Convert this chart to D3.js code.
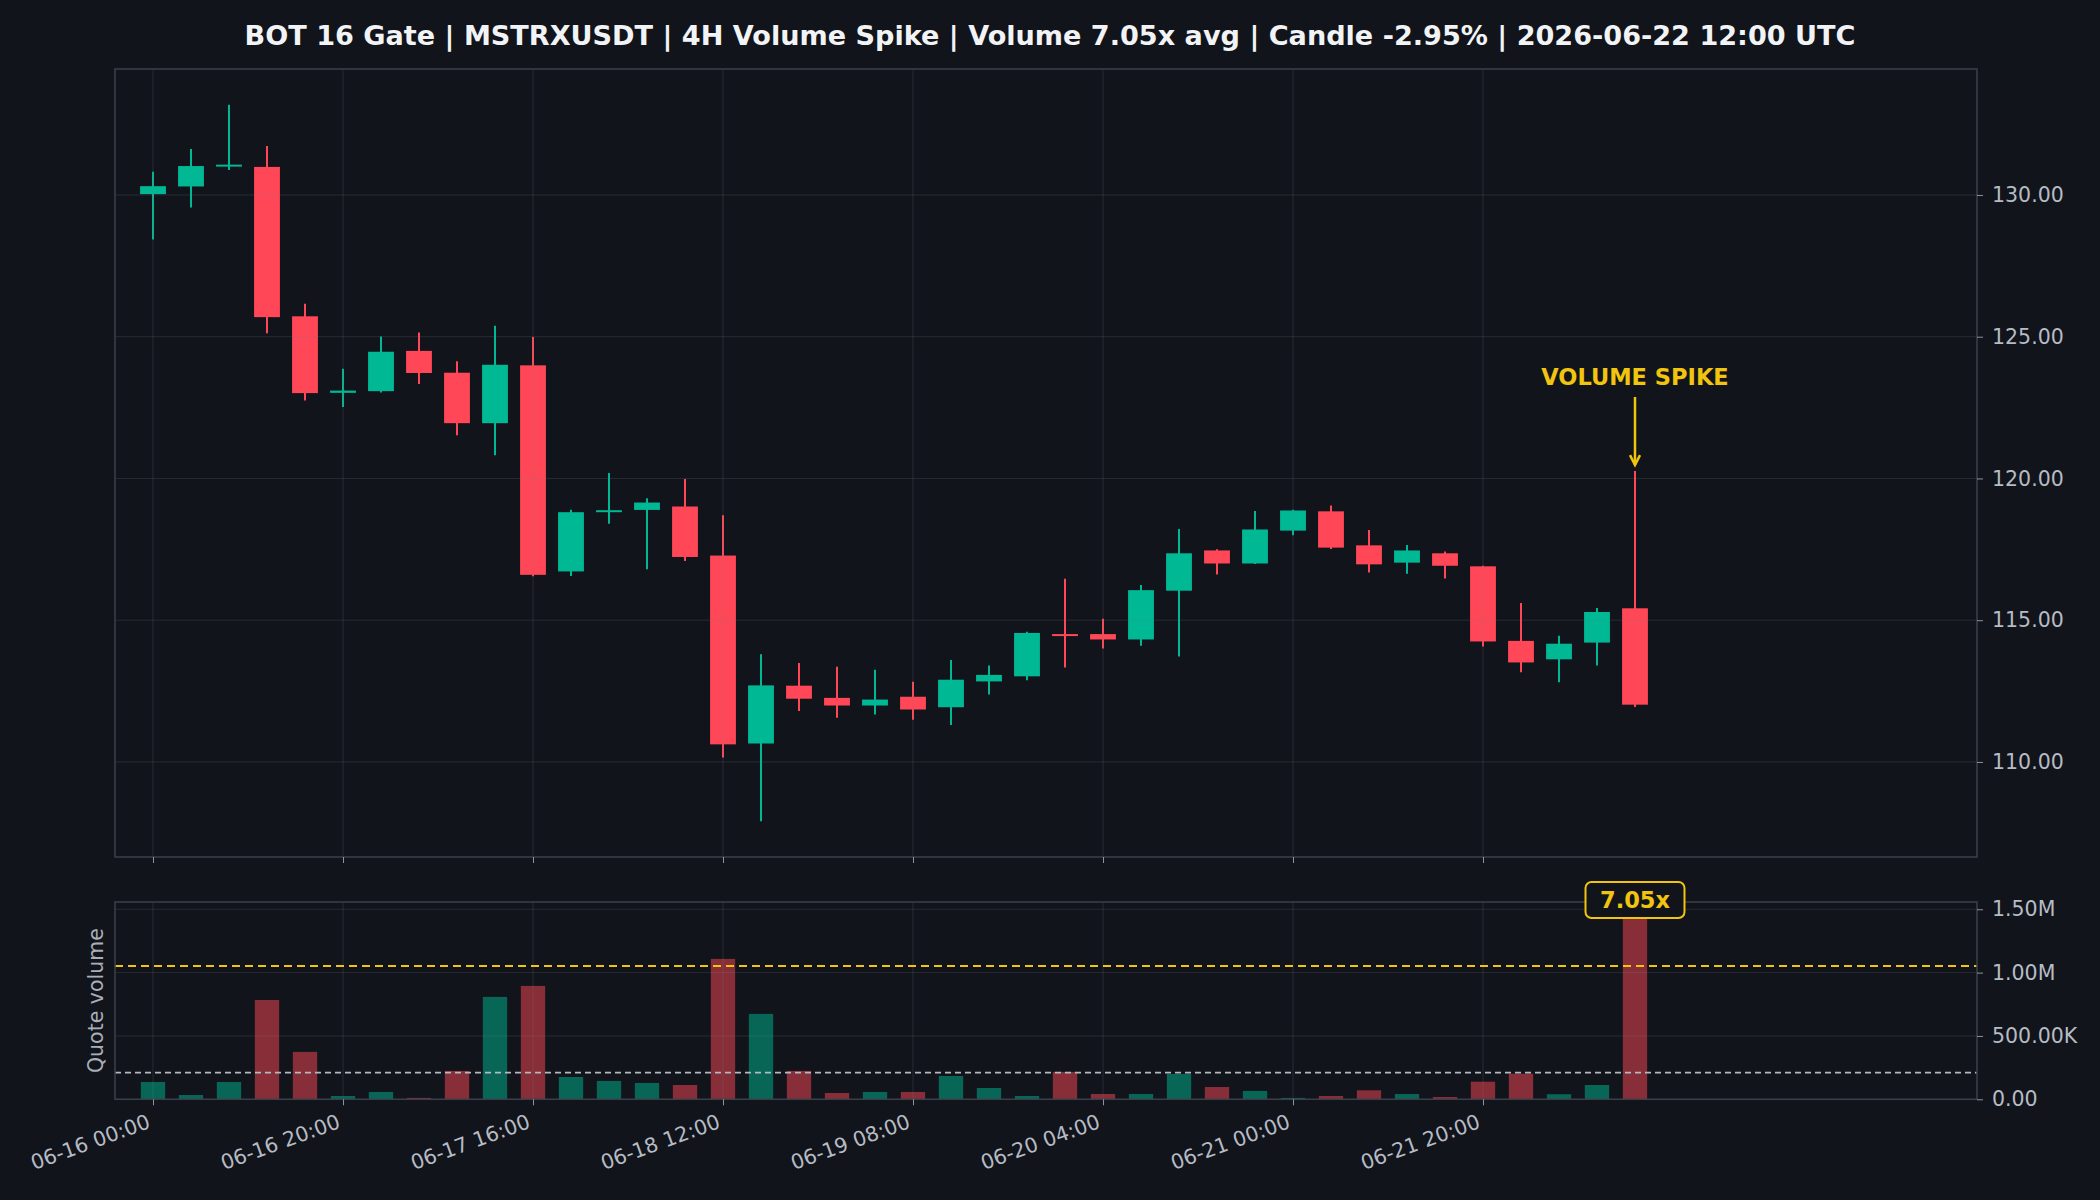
<!DOCTYPE html>
<html>
<head>
<meta charset="utf-8">
<script src="https://cdn.jsdelivr.net/npm/d3@7"></script>
<style>
  html, body { margin: 0; padding: 0; background: #11141b; }
  svg { display: block; }
  text { font-family: "DejaVu Sans", sans-serif; }
</style>
</head>
<body>
<svg id="chart" width="2100" height="1200"></svg>
<script>
// ---- DATA ----
const times = [
  "06-16 00:00","06-16 04:00","06-16 08:00","06-16 12:00","06-16 16:00",
  "06-16 20:00","06-17 00:00","06-17 04:00","06-17 08:00","06-17 12:00",
  "06-17 16:00","06-17 20:00","06-18 00:00","06-18 04:00","06-18 08:00",
  "06-18 12:00","06-18 16:00","06-18 20:00","06-19 00:00","06-19 04:00",
  "06-19 08:00","06-19 12:00","06-19 16:00","06-19 20:00","06-20 00:00",
  "06-20 04:00","06-20 08:00","06-20 12:00","06-20 16:00","06-20 20:00",
  "06-21 00:00","06-21 04:00","06-21 08:00","06-21 12:00","06-21 16:00",
  "06-21 20:00","06-22 00:00","06-22 04:00","06-22 08:00","06-22 12:00"
];
const open  = [130.03,130.30,131.03,130.99,125.72,123.02,123.08,124.50,123.73,121.95,
               123.99,116.72,118.82,118.89,119.01,117.28,110.65,112.69,112.26,111.99,
               112.30,111.93,112.84,113.02,114.51,114.51,114.32,116.04,117.46,117.00,
               118.16,118.84,117.64,117.03,117.36,116.90,114.27,113.62,114.21,115.42];
const high  = [130.82,131.62,133.18,131.73,126.16,123.87,125.01,125.15,124.13,125.39,
               124.99,118.90,120.19,119.30,119.98,118.70,113.80,113.49,113.36,113.25,
               112.83,113.60,113.40,114.59,116.46,115.05,116.24,118.22,117.50,118.85,
               118.90,119.05,118.18,117.65,117.42,116.92,115.61,114.45,115.43,120.26];
const low   = [128.43,129.56,130.88,125.12,122.75,122.52,123.03,123.33,121.52,120.82,
               116.55,116.56,118.40,116.80,117.09,110.16,107.91,111.80,111.56,111.67,
               111.49,111.30,112.38,112.88,113.33,114.00,114.10,113.72,116.61,116.98,
               118.00,117.51,116.68,116.64,116.47,114.07,113.16,112.81,113.40,111.94];
const close = [130.31,131.02,131.07,125.69,123.01,123.10,124.47,123.72,121.95,124.01,
               116.60,118.81,118.88,119.15,117.23,110.62,112.70,112.23,111.99,112.20,
               111.85,112.90,113.07,114.55,114.44,114.32,116.06,117.36,117.00,118.20,
               118.87,117.56,116.97,117.46,116.92,114.25,113.51,114.17,115.29,112.02];
const quoteVolume = [137000,34000,137000,784000,374000,26000,58000,11000,224000,808000,
                     895000,176000,145000,129000,113000,1108000,674000,224000,50000,58000,
                     58000,184000,89000,26000,216000,42000,42000,200000,97000,66000,
                     11000,26000,71000,42000,18000,139000,202000,40000,113000,1483000];
const avgVolume = 210400;
const thresholdVolume = 1052000;
const spikeMultiple = "7.05x";
const priceTicks = [110, 115, 120, 125, 130];
const volumeTicks = [0, 500000, 1000000, 1500000];
const volumeTickLabels = ["0.00", "500.00K", "1.00M", "1.50M"];
const xTickIndex = [0, 5, 10, 15, 20, 25, 30, 35];
const xTickLabels = ["06-16 00:00","06-16 20:00","06-17 16:00","06-18 12:00",
                     "06-19 08:00","06-20 04:00","06-21 00:00","06-21 20:00"];
const titleText = "BOT 16 Gate | MSTRXUSDT | 4H Volume Spike | Volume 7.05x avg | Candle -2.95% | 2026-06-22 12:00 UTC";

// ---- STYLE ----
const BG = "#11141b";
const UP = "#00b894";
const DOWN = "#ff4757";
const YELLOW = "#f1c40f";
const GRID = "rgb(120,126,138)";
const BORDER = "#3a3f4b";
const TICKTXT = "#b6bbc4";

const L = 115, R = 1977;
const P_TOP = 69, P_BOT = 857;
const V_TOP = 902, V_BOT = 1099.3;

const svg = d3.select("#chart");
svg.append("rect").attr("width", 2100).attr("height", 1200).attr("fill", BG);

const n = times.length;
const x = d3.scaleLinear().domain([-1, n + 8]).range([L, R]);
const step = x(1) - x(0);

const pMin = d3.min(low), pMax = d3.max(high), pr = pMax - pMin;
const y = d3.scaleLinear().domain([pMin - 0.05 * pr, pMax + 0.05 * pr]).range([P_BOT, P_TOP]);
const vMax = d3.max(quoteVolume);
const yv = d3.scaleLinear().domain([0, vMax * 1.05]).range([V_BOT, V_TOP]);

const data = times.map((t, i) => ({i, t, o: open[i], h: high[i], l: low[i], c: close[i], v: quoteVolume[i]}));

// Title
svg.append("text").attr("x", 1050).attr("y", 35).attr("text-anchor", "middle")
  .attr("dominant-baseline", "central").attr("fill", "#f2f3f5")
  .attr("font-size", 27.1).attr("font-weight", "bold").text(titleText);

// ---- PRICE PANEL ----
const pg = svg.append("g");
const pClip = svg.append("clipPath").attr("id", "pclip");
pClip.append("rect").attr("x", L).attr("y", P_TOP).attr("width", R - L).attr("height", P_BOT - P_TOP);

const candles = pg.append("g").attr("clip-path", "url(#pclip)");
candles.selectAll("line.wick").data(data).join("line")
  .attr("x1", d => x(d.i)).attr("x2", d => x(d.i))
  .attr("y1", d => y(d.h)).attr("y2", d => y(d.l))
  .attr("stroke", d => d.c >= d.o ? UP : DOWN).attr("stroke-width", 2);
candles.selectAll("rect.body").data(data).join("rect")
  .attr("x", d => x(d.i) - step * 0.34).attr("width", step * 0.68)
  .attr("y", d => y(Math.max(d.o, d.c)))
  .attr("height", d => Math.max(2, Math.abs(y(d.o) - y(d.c))))
  .attr("fill", d => d.c >= d.o ? UP : DOWN);

// grid (over marks, translucent)
const pgrid = pg.append("g").attr("stroke", GRID).attr("stroke-opacity", 0.22).attr("stroke-width", 1);
priceTicks.forEach(t => pgrid.append("line").attr("x1", L).attr("x2", R).attr("y1", y(t)).attr("y2", y(t)));
xTickIndex.forEach(i => pgrid.append("line").attr("x1", x(i)).attr("x2", x(i)).attr("y1", P_TOP).attr("y2", P_BOT));

pg.append("rect").attr("x", L).attr("y", P_TOP).attr("width", R - L).attr("height", P_BOT - P_TOP)
  .attr("fill", "none").attr("stroke", BORDER).attr("stroke-width", 1.5);

// right price axis
const yAxis = d3.axisRight(y).tickValues(priceTicks).tickFormat(d3.format(".2f")).tickSize(6).tickPadding(9);
const ya = pg.append("g").attr("transform", `translate(${R},0)`).call(yAxis);
ya.select(".domain").remove();
ya.selectAll("line").attr("stroke", "#8d929c");
ya.selectAll("text").attr("fill", TICKTXT).attr("font-size", 20.5).attr("font-family", "DejaVu Sans");

// bottom ticks of price panel (no labels)
const xAxisTop = d3.axisBottom(x).tickValues(xTickIndex).tickFormat("").tickSize(6);
const xa1 = pg.append("g").attr("transform", `translate(0,${P_BOT})`).call(xAxisTop);
xa1.select(".domain").remove();
xa1.selectAll("line").attr("stroke", "#8d929c");

// Volume spike annotation
const si = n - 1;
pg.append("text").attr("x", x(si)).attr("y", 385).attr("text-anchor", "middle")
  .attr("fill", YELLOW).attr("font-size", 22.5).attr("font-weight", "bold").text("VOLUME SPIKE");
const ax = x(si), ay0 = 397, ay1 = y(high[si]) - 6;
pg.append("line").attr("x1", ax).attr("x2", ax).attr("y1", ay0).attr("y2", ay1)
  .attr("stroke", YELLOW).attr("stroke-width", 2.5);
pg.append("path").attr("d", `M${ax - 5},${ay1 - 10} L${ax},${ay1} L${ax + 5},${ay1 - 10}`)
  .attr("fill", "none").attr("stroke", YELLOW).attr("stroke-width", 2.5).attr("stroke-linejoin", "miter");

// ---- VOLUME PANEL ----
const vg = svg.append("g");
const vClip = svg.append("clipPath").attr("id", "vclip");
vClip.append("rect").attr("x", L).attr("y", V_TOP).attr("width", R - L).attr("height", V_BOT - V_TOP);

const bars = vg.append("g").attr("clip-path", "url(#vclip)");
bars.selectAll("rect").data(data).join("rect")
  .attr("x", d => x(d.i) - step * 0.32).attr("width", step * 0.64)
  .attr("y", d => yv(d.v)).attr("height", d => V_BOT - yv(d.v))
  .attr("fill", d => d.c >= d.o ? UP : DOWN).attr("fill-opacity", 0.5);

const vgrid = vg.append("g").attr("stroke", GRID).attr("stroke-opacity", 0.22).attr("stroke-width", 1);
volumeTicks.forEach(t => vgrid.append("line").attr("x1", L).attr("x2", R).attr("y1", yv(t)).attr("y2", yv(t)));
xTickIndex.forEach(i => vgrid.append("line").attr("x1", x(i)).attr("x2", x(i)).attr("y1", V_TOP).attr("y2", V_BOT));

vg.append("line").attr("x1", L).attr("x2", R).attr("y1", yv(thresholdVolume)).attr("y2", yv(thresholdVolume))
  .attr("stroke", YELLOW).attr("stroke-width", 2.2).attr("stroke-dasharray", "8,5");
vg.append("line").attr("x1", L).attr("x2", R).attr("y1", yv(avgVolume)).attr("y2", yv(avgVolume))
  .attr("stroke", "#b4b8c0").attr("stroke-width", 1.6).attr("stroke-dasharray", "6,4");

vg.append("rect").attr("x", L).attr("y", V_TOP).attr("width", R - L).attr("height", V_BOT - V_TOP)
  .attr("fill", "none").attr("stroke", BORDER).attr("stroke-width", 1.5);

const vAxis = d3.axisRight(yv).tickValues(volumeTicks).tickFormat((d, i) => volumeTickLabels[i]).tickSize(6).tickPadding(9);
const va = vg.append("g").attr("transform", `translate(${R},0)`).call(vAxis);
va.select(".domain").remove();
va.selectAll("line").attr("stroke", "#8d929c");
va.selectAll("text").attr("fill", TICKTXT).attr("font-size", 20.5).attr("font-family", "DejaVu Sans");

const xAxis = d3.axisBottom(x).tickValues(xTickIndex).tickFormat((d, i) => xTickLabels[i]).tickSize(6);
const xa = vg.append("g").attr("transform", `translate(0,${V_BOT})`).call(xAxis);
xa.select(".domain").remove();
xa.selectAll("line").attr("stroke", "#8d929c");
xa.selectAll("text").attr("fill", TICKTXT).attr("font-size", 20.5).attr("font-family", "DejaVu Sans")
  .attr("text-anchor", "end").attr("dy", "0")
  .attr("transform", "translate(-2,28) rotate(-20)").attr("x", 0).attr("y", 0);

// y label
vg.append("text").attr("transform", `translate(96,${(V_TOP + V_BOT) / 2}) rotate(-90)`)
  .attr("text-anchor", "middle").attr("dominant-baseline", "central")
  .attr("fill", "#a9aeb7").attr("font-size", 20.5).text("Quote volume");

// spike multiple label
const bx = x(si), by = 900;
const lbl = vg.append("g");
lbl.append("rect").attr("x", bx - 49.5).attr("y", by - 18).attr("width", 99).attr("height", 36)
  .attr("rx", 6).attr("fill", BG).attr("stroke", YELLOW).attr("stroke-width", 2);
lbl.append("text").attr("x", bx).attr("y", by).attr("text-anchor", "middle")
  .attr("dominant-baseline", "central").attr("fill", YELLOW)
  .attr("font-size", 22.5).attr("font-weight", "bold").text(spikeMultiple);
</script>
</body>
</html>
